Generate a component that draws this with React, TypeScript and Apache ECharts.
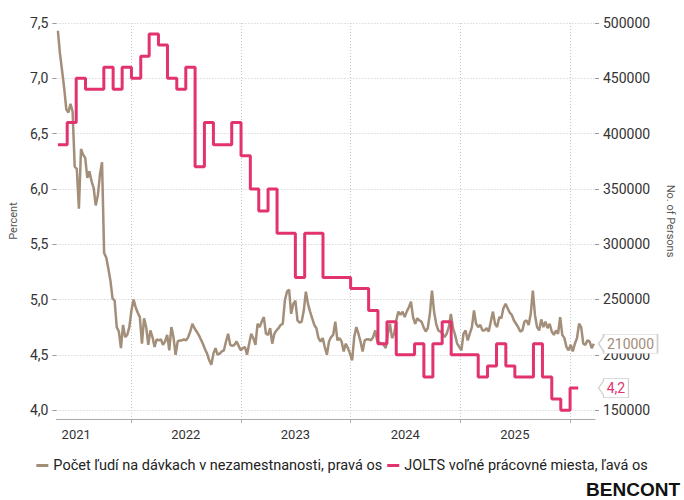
import React, { useEffect, useRef } from "react";
import * as echarts from "echarts";

// Weekly series: number of people on unemployment benefits (right axis), first week ending 1 May 2021
const claimsStart = { year: 2021, month: 4, day: 1 };
const claimsValues = [
  493000, 472000, 457000, 441000, 422000, 419000, 427000, 420000, 370000, 368000,
  332000, 386000, 381000, 378000, 360000, 366000, 357000, 351000, 335000, 344000,
  363000, 374000, 292000, 288000, 278000, 267000, 251000, 249000, 225000, 221000,
  206000, 227000, 216000, 218000, 225000, 240000, 250000, 243000, 238000, 234000,
  210000, 233000, 225000, 209000, 222000, 216000, 207000, 214000, 213000, 214000,
  209000, 212000, 218000, 204000, 225000, 216000, 200000, 212000, 213000, 213000,
  214000, 213000, 216000, 221000, 228000, 224000, 221000, 218000, 214000, 210000,
  205000, 201000, 195000, 191000, 201000, 206000, 200000, 201000, 203000, 204000,
  212000, 219000, 209000, 208000, 209000, 212000, 208000, 204000, 206000, 207000,
  200000, 210000, 219000, 215000, 209000, 228000, 225000, 230000, 234000, 219000,
  218000, 224000, 210000, 219000, 222000, 224000, 227000, 228000, 249000, 257000,
  259000, 237000, 246000, 249000, 231000, 229000, 230000, 240000, 257000, 246000,
  239000, 233000, 227000, 224000, 215000, 212000, 215000, 207000, 200000, 212000,
  216000, 218000, 230000, 213000, 215000, 212000, 203000, 210000, 206000, 201000,
  195000, 216000, 225000, 219000, 212000, 203000, 213000, 214000, 214000, 213000,
  216000, 222000, 212000, 211000, 210000, 209000, 206000, 219000, 228000, 215000,
  219000, 231000, 239000, 236000, 239000, 234000, 239000, 243000, 248000, 234000,
  228000, 233000, 231000, 230000, 225000, 221000, 224000, 237000, 258000, 239000,
  228000, 222000, 221000, 219000, 216000, 219000, 225000, 237000, 224000, 218000,
  210000, 207000, 204000, 219000, 222000, 213000, 219000, 225000, 240000, 228000,
  225000, 227000, 222000, 222000, 224000, 221000, 230000, 239000, 228000, 225000,
  234000, 233000, 242000, 246000, 242000, 238000, 236000, 231000, 228000, 225000,
  221000, 222000, 230000, 231000, 227000, 237000, 258000, 236000, 225000, 222000,
  232000, 225000, 230000, 224000, 228000, 221000, 218000, 222000, 219000, 234000,
  218000, 215000, 207000, 204000, 209000, 203000, 210000, 215000, 228000, 225000,
  210000, 209000, 213000, 212000, 206000, 210000,
];

// Monthly JOLTS job openings rate (left axis), %
const joltsMonths = [
  "2021-05", "2021-06", "2021-07", "2021-08", "2021-09", "2021-10", "2021-11", "2021-12",
  "2022-01", "2022-02", "2022-03", "2022-04", "2022-05", "2022-06", "2022-07", "2022-08",
  "2022-09", "2022-10", "2022-11", "2022-12",
  "2023-01", "2023-02", "2023-03", "2023-04", "2023-05", "2023-06", "2023-07", "2023-08",
  "2023-09", "2023-10", "2023-11", "2023-12",
  "2024-01", "2024-02", "2024-03", "2024-04", "2024-05", "2024-06", "2024-07", "2024-08",
  "2024-09", "2024-10", "2024-11", "2024-12",
  "2025-01", "2025-02", "2025-03", "2025-04", "2025-05", "2025-06", "2025-07", "2025-08",
  "2025-09", "2025-10", "2025-11", "2025-12",
  "2026-01",
];
const joltsRate = [
  6.4, 6.6, 7.0, 6.9, 6.9, 7.1, 6.9, 7.1,
  7.0, 7.2, 7.4, 7.3, 7.0, 6.9, 7.1, 6.2, 6.6, 6.4, 6.4, 6.6,
  6.3, 6.0, 5.8, 6.0, 5.6, 5.6, 5.2, 5.6, 5.6, 5.2, 5.2, 5.2,
  5.1, 5.1, 4.9, 4.6, 4.8, 4.5, 4.5, 4.6, 4.3, 4.6, 4.8, 4.5,
  4.5, 4.5, 4.3, 4.4, 4.6, 4.4, 4.3, 4.3, 4.6, 4.3, 4.1, 4.0,
  4.2,
];
const joltsLastDay = "2026-01-28";

const xStart = "2021-04-26";
const xEnd = "2026-03-25";
const yearTicks = [2022, 2023, 2024, 2025, 2026];
const yearLabels = [2021, 2022, 2023, 2024, 2025];
const leftTicks = [4.0, 4.5, 5.0, 5.5, 6.0, 6.5, 7.0, 7.5];
const rightTicks = [150000, 200000, 250000, 300000, 350000, 400000, 450000, 500000];
const leftMin = 3.92;
const leftMax = 7.5;
const rightMin = 141900;
const rightMax = 500000;

const claimsName = "Počet ľudí na dávkach v nezamestnanosti, pravá os";
const joltsName = "JOLTS voľné prácovné miesta, ľavá os";

const BROWN = "#a38e79";
const PINK = "#e2336e";
const FONT = "Roboto";

function parseDay(s: string): number {
  const [y, m, d] = s.split("-").map(Number);
  return new Date(y, m - 1, d || 1).getTime();
}

export default function App() {
  const ref = useRef<HTMLDivElement>(null);

  useEffect(() => {
    if (!ref.current) return;
    const chart = echarts.init(ref.current, null, { renderer: "svg" });

    const claimsData = claimsValues.map((v, i) => [
      new Date(claimsStart.year, claimsStart.month, claimsStart.day + 7 * i).getTime(),
      v,
    ]);
    const joltsData: [number, number][] = joltsMonths.map((m, i) => [parseDay(m), joltsRate[i]]);
    joltsData.push([parseDay(joltsLastDay), joltsRate[joltsRate.length - 1]]);

    const xMax = parseDay(xEnd);
    const lastClaims = claimsValues[claimsValues.length - 1];
    const lastJolts = joltsRate[joltsRate.length - 1];

    const gridLine = { show: true, lineStyle: { color: "#c8c8c8", type: [1, 2] as any, width: 1 } };

    chart.setOption({
      animation: false,
      textStyle: { fontFamily: FONT },
      grid: { left: 53, right: 78, top: 23, bottom: 81, containLabel: false },
      legend: {
        data: [
          { name: claimsName, icon: "rect" },
          { name: joltsName, icon: "rect" },
        ],
        left: "center",
        top: 453,
        itemWidth: 12,
        itemHeight: 3,
        itemGap: 5,
        selectedMode: false,
        textStyle: { fontFamily: FONT, fontSize: 14.5, color: "#222" },
      },
      xAxis: {
        type: "value",
        min: parseDay(xStart),
        max: xMax,
        axisLine: { show: true, lineStyle: { color: "#aaa", width: 1 } },
        axisTick: {
          show: true,
          length: 4,
          lineStyle: { color: "#aaa" },
          customValues: yearTicks.map((y) => new Date(y, 0, 1).getTime()),
        },
        splitLine: gridLine,
        axisLabel: {
          color: "#333",
          fontSize: 13,
          fontFamily: FONT,
          margin: 9,
          customValues: yearLabels.map((y) => new Date(y, 6, 1).getTime()),
          formatter: (v: number) => String(new Date(v).getFullYear()),
        },
      },
      yAxis: [
        {
          type: "value",
          position: "left",
          min: leftMin,
          max: leftMax,
          name: "Percent",
          nameLocation: "middle",
          nameGap: 36,
          nameRotate: 90,
          nameTextStyle: { fontSize: 11, color: "#555", fontFamily: FONT },
          axisLine: { show: false },
          axisTick: { show: true, length: 4, lineStyle: { color: "#999" }, customValues: leftTicks },
          splitLine: gridLine,
          axisLabel: {
            color: "#333",
            fontSize: 14,
            fontFamily: FONT,
            margin: 8,
            customValues: leftTicks,
            formatter: (v: number) => v.toFixed(1).replace(".", ","),
          },
        },
        {
          type: "value",
          position: "right",
          min: rightMin,
          max: rightMax,
          name: "No. of Persons",
          nameLocation: "middle",
          nameGap: 70,
          nameRotate: -90,
          nameTextStyle: { fontSize: 11, color: "#555", fontFamily: FONT },
          axisLine: { show: false },
          axisTick: { show: true, length: 4, lineStyle: { color: "#999" }, customValues: rightTicks },
          splitLine: { show: false },
          axisLabel: {
            color: "#333",
            fontSize: 14,
            fontFamily: FONT,
            margin: 8,
            customValues: rightTicks,
            formatter: (v: number) => String(Math.round(v)),
          },
        },
      ],
      series: [
        {
          name: claimsName,
          type: "line",
          yAxisIndex: 1,
          data: claimsData,
          showSymbol: false,
          symbol: "none",
          color: BROWN,
          lineStyle: { color: BROWN, width: 2.5 },
          clip: false,
          markPoint: {
            silent: true,
            symbol: "path://M0,9.5L5,2.5L5,0L59,0L59,19L5,19L5,16.5Z",
            symbolSize: [59, 19],
            symbolOffset: [33, 0],
            itemStyle: { color: "#fff", borderColor: "#cfcfcf", borderWidth: 1 },
            label: {
              show: true,
              position: "inside",
              offset: [2.5, 0],
              color: BROWN,
              fontSize: 14,
              fontFamily: FONT,
              formatter: () => String(lastClaims),
            },
            data: [{ coord: [xMax, lastClaims], value: lastClaims }],
          },
        },
        {
          name: joltsName,
          type: "line",
          yAxisIndex: 0,
          data: joltsData,
          step: "end",
          showSymbol: false,
          symbol: "none",
          color: PINK,
          lineStyle: { color: PINK, width: 3 },
          clip: false,
          markPoint: {
            silent: true,
            symbol: "path://M0,9.5L5,2.5L5,0L30,0L30,19L5,19L5,16.5Z",
            symbolSize: [30, 19],
            symbolOffset: [18.5, 0],
            itemStyle: { color: "#fff", borderColor: "#cfcfcf", borderWidth: 1 },
            label: {
              show: true,
              position: "inside",
              offset: [2.5, 0],
              color: PINK,
              fontSize: 14,
              fontFamily: FONT,
              formatter: () => lastJolts.toFixed(1).replace(".", ","),
            },
            data: [{ coord: [xMax, lastJolts], value: lastJolts }],
          },
        },
      ],
      graphic: [
        {
          type: "text",
          right: 4,
          top: 480,
          style: {
            text: "BENCONT",
            fill: "#111",
            font: 'bold 19px "Liberation Sans", Arial, sans-serif',
          },
        },
      ],
    });

    return () => chart.dispose();
  }, []);

  return (
    <div
      ref={ref}
      style={{ position: "absolute", left: 0, top: 0, width: 684, height: 500, background: "#fff" }}
    />
  );
}
